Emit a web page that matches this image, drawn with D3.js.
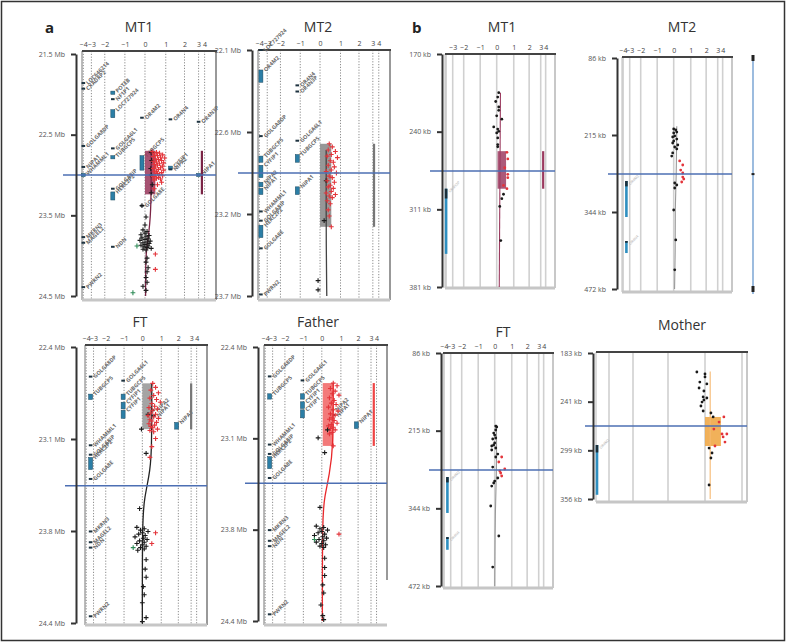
<!DOCTYPE html>
<html><head><meta charset="utf-8">
<script src="https://cdn.jsdelivr.net/npm/d3@7"></script>
<style>body{margin:0;background:#fff}svg{display:block}</style>
</head><body><svg id="c" width="788" height="643"></svg>
<script>
// ---------------- DATA ----------------
const xTickVals = [-4,-3,-2,-1,0,1,2,3,4];
const bMT1TickVals = [-3,-2,-1,0,1,2,3,4];
const motherGridVals = [-3,-2,-1,0,1];

// panel a, MT1
const aMT1YDomain = [21.5,24.5];
const aMT1YLabels = ["21.5 Mb","22.5 Mb","23.5 Mb","24.5 Mb"];
const aMT1Break = 23.0;
const aMT1Box = [0,0.5,22.7,23.24];
const aMT1BarX = 3.55;
const aMT1Genes = [
 ["LOC646214",-4,21.86,21.87],["CXADRP2",-4,21.93,21.94],["POTEB",-1.6,21.96,22.0],
 ["NF1P1",-1.6,22.06,22.07],["LOC727924",-1.6,22.19,22.29],["OR4M2",-0.15,22.29,22.3],
 ["OR4N4",1.25,22.31,22.32],["OR4N3P",3.0,22.34,22.35],["GOLGA8DP",-4,22.64,22.65],
 ["GOLGA6L1",-1.6,22.67,22.68],["TUBGCP5",-1.6,22.76,22.8],["TUBGCP5",-0.15,22.76,22.94],
 ["CYFIP1",1.25,22.89,22.93],["NIPA2",1.25,22.93,22.96],["NIPA1",-4,22.9,22.91],
 ["WHAMML1",-4,22.98,23.02],["NIPA1",3.0,22.98,23.02],["GOLGA8IP",-1.6,23.17,23.18],
 ["HERC2P2",-1.6,23.21,23.31],["GOLGA8E",-0.15,23.38,23.39],["MKRN3",-4,23.77,23.78],
 ["MAGEL2",-4,23.84,23.85],["NDN",-1.6,23.89,23.9],["PWRN2",-4,24.39,24.4]
];
const aMT1Red = [
 [0.35,22.71],[0.55,22.72],[0.7,22.73],[0.45,22.74],[0.85,22.75],[0.6,22.76],[0.4,22.77],[0.75,22.78],[0.95,22.79],[0.5,22.8],
 [0.65,22.81],[0.8,22.82],[0.4,22.83],[0.55,22.84],[0.9,22.85],[0.7,22.86],[0.45,22.87],[0.6,22.88],[0.85,22.89],[0.5,22.9],
 [0.75,22.91],[0.4,22.92],[0.65,22.93],[0.9,22.94],[0.55,22.95],[0.45,22.96],[0.8,22.97],[0.6,22.98],[0.7,22.99],[0.5,23.0],
 [0.85,23.01],[0.4,23.02],[0.65,23.03],[0.55,23.04],[0.75,23.05],[0.45,23.06],[0.8,23.09],[0.6,23.12],[0.45,23.17],[0.5,23.98],[0.5,24.17]
];
const aMT1Black = [
 [0.3,22.72],[0.32,22.82],[0.28,22.92],[0.3,23.0],[0.35,23.12],[0.3,23.22],[-0.15,23.38],[0.05,23.52],[0.0,23.62],
 [-0.1,23.68],[0.1,23.7],[0.0,23.72],[-0.2,23.74],[0.2,23.75],[0.05,23.76],[-0.15,23.78],[0.15,23.79],[0.0,23.8],[-0.25,23.81],
 [0.25,23.82],[0.1,23.83],[-0.1,23.84],[0.2,23.85],[0.0,23.86],[-0.2,23.87],[0.15,23.88],[-0.05,23.89],[0.1,23.9],[0.3,23.91],
 [-0.1,23.92],[0.05,23.93],[0.1,24.03],[0.05,24.08],[0.15,24.15],[0.1,24.2],[0.05,24.27],[0.1,24.33],[-0.1,24.38],[0.05,24.43]
];
const aMT1Green = [[-0.4,23.88],[-0.6,24.46]];
const aMT1Trend = [[0.3,22.7],[0.3,23.4],[0.2,23.7],[0.05,23.95],[0.03,24.2],[0.03,24.5]];

// panel a, MT2
const aMT2YDomain = [22.1,23.7];
const aMT2YLabels = ["22.1 Mb","22.6 Mb","23.2 Mb","23.7 Mb"];
const aMT2Break = 22.9;
const aMT2Box = [0,0.55,22.71,23.25];
const aMT2BarX = 3.2;
const aMT2Genes = [
 ["LOC727924",-3.8,22.1,22.105],["OR4M2",-3.8,22.23,22.31],["OR4N4",-1.15,22.33,22.335],
 ["OR4N3P",-1.15,22.37,22.375],["GOLGA8DP",-3.8,22.66,22.665],["GOLGA6L1",-1.15,22.69,22.695],
 ["TUBGCP5",-1.15,22.78,22.83],["TUBGCP5",-3.8,22.79,22.83],["CYFIP1",-3.8,22.85,22.93],
 ["NIPA2",-3.8,22.96,22.99],["NIPA1",-3.8,23.0,23.04],["NIPA1",-1.15,22.99,23.04],
 ["WHAMML1",-3.8,23.15,23.155],["GOLGA8IP",-3.8,23.21,23.215],["HERC2P2",-3.8,23.24,23.32],
 ["GOLGA8E",-3.8,23.39,23.395],["PWRN2",-3.8,23.69,23.695]
];
const aMT2Red = [
 [0.45,22.71],[0.6,22.73],[0.4,22.75],[0.75,22.76],[0.55,22.78],[0.35,22.79],[0.85,22.8],[0.5,22.82],[0.65,22.83],[0.4,22.85],
 [0.7,22.86],[0.55,22.88],[0.3,22.89],[0.8,22.9],[0.45,22.92],[0.6,22.93],[0.35,22.95],[0.7,22.96],[0.5,22.98],[0.4,22.99],
 [0.65,23.0],[0.55,23.02],[0.3,23.03],[0.75,23.04],[0.45,23.05],[0.6,23.06],[0.35,23.08],[0.5,23.1],[0.4,23.14],[0.45,23.18],[0.55,23.25]
];
const aMT2Black = [[0.3,22.95],[0.2,23.21],[-0.1,23.6],[-0.1,23.66]];
const aMT2Trend = [[0.3,22.75],[0.3,23.43],[0.33,23.7]];

// panel a, FT and Father (shared gene track)
const aFTYDomain = [22.4,24.45];
const aFTYLabels = ["22.4 Mb","23.1 Mb","23.8 Mb","24.4 Mb"];
const aFTBreak = 23.43;
const aFTBox = [0,0.5,22.67,23.01];
const aFTBarX = 3.0;
const aFamilyGenes = [
 ["GOLGA8DP",-3.4,22.62,22.625],["GOLGA6L1",-1.05,22.65,22.655],["TUBGCP5",-3.4,22.75,22.79],
 ["TUBGCP5",-1.05,22.75,22.79],["CYFIP1",-1.05,22.81,22.86],["CYFIP1",-1.05,22.87,22.93],
 ["NIPA2",0.55,22.87,22.875],["NIPA1",0.6,22.91,22.915],["NIPA1",1.9,22.96,23.01],
 ["WHAMML1",-3.4,23.13,23.135],["GOLGA8IP",-3.4,23.2,23.205],["HERC2P2",-3.4,23.22,23.31],
 ["GOLGA8E",-3.4,23.38,23.385],["MKRN3",-3.4,23.77,23.775],["MAGEL2",-3.4,23.85,23.855],
 ["NDN",-3.4,23.89,23.895],["PWRN2",-3.4,24.4,24.405]
];
const aFTRed = [
 [0.55,22.67],[0.7,22.7],[0.45,22.72],[0.85,22.74],[0.6,22.76],[0.4,22.78],[0.75,22.79],[0.95,22.81],[0.5,22.82],[0.65,22.84],
 [0.35,22.85],[0.8,22.86],[0.55,22.87],[0.45,22.89],[0.7,22.9],[0.3,22.91],[0.6,22.92],[0.85,22.93],[0.4,22.94],[0.5,22.95],
 [0.75,22.96],[0.35,22.97],[0.65,22.98],[0.45,22.99],[0.55,23.0],[0.8,23.01],[0.4,23.02],[0.6,23.03],[0.7,23.08],[0.5,23.14],
 [0.4,23.22],[0.7,23.78],[0.5,23.86]
];
const aFTBlack = [
 [0.3,22.9],[-0.05,23.01],[0.2,23.19],[-0.15,23.6],[-0.3,23.74],[0.1,23.75],[-0.1,23.76],[0.3,23.77],[0.0,23.78],[-0.2,23.79],
 [0.15,23.8],[-0.4,23.81],[0.05,23.82],[0.25,23.83],[-0.15,23.84],[0.1,23.85],[-0.3,23.86],[0.0,23.87],[0.2,23.88],[-0.1,23.89],
 [0.1,23.9],[-0.25,23.91],[0.2,23.98],[0.15,24.05],[0.2,24.11],[0.05,24.18],[0.1,24.24],[0.0,24.3],[0.2,24.41],[0.0,24.44]
];
const aFTGreen = [[-0.5,23.89]];
const aFTTrend = [[0.5,22.67],[0.5,23.22],[0.35,23.36],[0.12,23.52],[0,23.66],[0,24.45]];

const aFatherBreak = 23.42;
const aFatherBox = [0.05,0.6,22.67,23.14];
const aFatherBarX = 3.5;
const aFatherRed = [
 [0.6,22.67],[0.8,22.69],[0.45,22.71],[0.7,22.73],[0.55,22.75],[0.9,22.76],[0.4,22.78],[0.65,22.8],[0.5,22.82],[0.75,22.83],
 [0.35,22.85],[0.6,22.87],[0.85,22.88],[0.45,22.9],[0.7,22.91],[0.55,22.93],[0.4,22.94],[0.65,22.95],[0.8,22.97],[0.5,22.98],
 [0.35,22.99],[0.6,23.0],[0.45,23.01],[0.7,23.02],[0.55,23.04],[0.4,23.05],[0.6,23.14],[0.9,23.8]
];
const aFatherBlack = [
 [0.3,23.02],[-0.2,23.08],[0.15,23.19],[-0.1,23.6],[-0.3,23.74],[0.1,23.75],[-0.1,23.76],[0.3,23.77],[0.0,23.78],[-0.2,23.79],
 [0.15,23.8],[-0.4,23.81],[0.05,23.82],[0.25,23.83],[-0.15,23.84],[0.1,23.85],[-0.3,23.86],[0.0,23.87],[0.2,23.88],[-0.1,23.89],
 [0.1,23.9],[0.15,23.98],[0.15,24.05],[0.15,24.11],[0.05,24.18],[0.1,24.24],[-0.05,24.33],[0.05,24.41],[0.1,24.44]
];
const aFatherGreen = [[-0.4,23.84]];
const aFatherTrend = [[0.6,22.67],[0.6,23.16],[0.4,23.35],[0.15,23.52],[0.03,23.65],[0.03,24.45]];

// panel b
const bMT1YDomain = [170,381];
const bMT1YLabels = ["170 kb","240 kb","311 kb","381 kb"];
const bMT1Break = 276;
const bMT1Box = [0.05,0.55,258,292];
const bMT1BarX = 3.5;
const bMT1Genes = [["OR4N3P",-4,292,351]];
const bMT1Black = [[0.12,205],[0.06,209],[-0.06,213],[0.12,218],[0.12,221],[0,226],[0.3,229],[-0.18,236],[0.06,238],[0.12,240],
 [0,241.5],[0.06,246],[0.06,252],[0.06,254],[0.4,297],[0.3,301],[0.18,308],[0.24,339]];
const bMT1Red = [[0.6,259],[0.65,265],[0.47,273],[0.65,279],[0.65,282],[0.4,289],[0.6,292]];
const bMT1Trend = [[0.22,205],[0.15,381]];

const bKbYDomain = [86,472];
const bKbYLabels = ["86 kb","215 kb","344 kb","472 kb"];
const bMT2Break = 280;
const bMT2Genes = [["OR4M2",-3.5,291.5,351.7],["OR4N4",-3.5,391.8,411.9]];
const bMT2Black = [[0,204.6],[0.12,206.3],[0.18,209.7],[0,211.3],[0.06,216.3],[-0.06,218],[0.18,221.4],[0,224.7],[-0.06,228],
 [0.24,231.4],[0.06,234.7],[0.18,238],[-0.06,244.7],[-0.12,249.8],[0.06,294.9],[0.18,298.2],[0.06,303.2],[0,340],[0.12,390],[0.06,440]];
const bMT2Red = [[0.35,258],[0.53,264.8],[0.41,273.2],[0.53,278.2],[0.53,284.9],[0.59,288.2],[0.47,293.2]];
const bMT2Trend = [[0.18,200],[0.15,290],[0.08,340],[0.1,400],[0.05,472]];

const bFTBreak = 280;
const bFTGenes = [["OR4M2",-3.5,291.5,351],["OR4N4",-3.5,391,412]];
const bFTBlack = [[0.06,207],[0.12,208.6],[0.06,213.6],[-0.06,218.6],[0,221.9],[0.06,226.8],[-0.12,228.5],[0,235.1],[-0.06,238.4],
 [-0.18,240.1],[0.06,243.4],[-0.18,246.7],[0.18,253.4],[0.06,258.3],[-0.12,274.9],[0.18,293.1],[0,298.1],[-0.06,301.4],
 [-0.18,306.4],[-0.24,339.5],[0.24,389.2],[-0.12,440.6]];
const bFTRed = [[0.41,258.3],[0.24,266.6],[0.59,278.2],[0.3,281.5],[0.35,284.8],[0.41,289.8]];
const bFTTrend = [[0.1,205],[0.12,280],[0.03,340],[0,472]];

const bMotherYDomain = [183,356];
const bMotherYLabels = ["183 kb","241 kb","299 kb","356 kb"];
const bMotherBreak = 269.5;
const bMotherBox = [0,0.43,258.8,293.2];
const bMotherGenes = [["OR4M2",-4,292,351]];
const bMotherBlack = [[-0.22,205.5],[0,207.9],[-0.14,217.4],[0,211.4],[0.05,219.7],[-0.16,224.5],[-0.03,228],[-0.05,235.1],
 [0.05,236.3],[-0.03,238.7],[-0.08,241.1],[-0.11,245.8],[-0.05,251.7],[0.16,254.1],[0.22,258.8],[0.11,295.6],[0.19,301.5],
 [0.16,307.4],[0.11,339.4]];
const bMotherRed = [[0.51,258.8],[0.38,264.8],[0.24,273.1],[0.46,279],[0.59,279],[0.49,282.5],[0.54,288.5],[0.27,293.2]];
const bMotherTrend = [[0.14,205],[0.14,356]];
const motherXDomain = [-4,-3,-2,-1,0,1];

// ---------------- LAYOUT / DRAW ----------------
const FONT = "'Open Sans','DejaVu Sans',sans-serif";
const tickFrac = [0.01,0.07,0.17,0.32,0.47,0.625,0.765,0.87,0.915];
const svg = d3.select("#c");
svg.append("rect").attr("x",1.5).attr("y",1.5).attr("width",783).attr("height",639)
  .attr("fill","none").attr("stroke","#333").attr("stroke-width",1.5);

function fmt(d){ return d<0 ? "\u2212"+Math.abs(d) : String(d); }

function drawPanel(p){
  const g = svg.append("g");
  const xDom = p.xDomain || xTickVals;
  const xRange = p.xRange || tickFrac.map(f=>p.px0+f*(p.px1-p.px0));
  const xs = d3.scaleLinear().domain(xDom).range(xRange);
  const ys = d3.scaleLinear().domain(p.yDomain).range(p.yr);
  const A = p.style==="a";

  g.selectAll("line.grid").data(p.grid||xTickVals).join("line")
    .attr("x1",d=>xs(d)).attr("x2",d=>xs(d)).attr("y1",p.py0).attr("y2",p.py1)
    .attr("stroke",A?"#6f6f6f":"#d0d0d0").attr("stroke-width",A?0.8:1.6)
    .attr("stroke-dasharray",A?"1.2,1.6":null);

  g.append("line").attr("x1",p.px0).attr("x2",p.px0).attr("y1",p.py0).attr("y2",p.py1)
    .attr("stroke",A?"#777":"#bbb").attr("stroke-width",1);
  g.append("line").attr("x1",p.px1).attr("x2",p.px1).attr("y1",p.py0).attr("y2",p.rightEnd||p.py1)
    .attr("stroke",A?"#555":"#c8c8c8").attr("stroke-width",A?1.2:2);
  g.append("line").attr("x1",p.px0).attr("x2",p.px1).attr("y1",p.py1).attr("y2",p.py1)
    .attr("stroke","#c6c6c6").attr("stroke-width",3);
  g.append("line").attr("x1",p.px0).attr("x2",p.px1+1).attr("y1",p.py0).attr("y2",p.py0)
    .attr("stroke","#444").attr("stroke-width",2);

  const gg = g.append("g");
  (p.genes||[]).forEach(d=>{
    const x = xs(d[1]), y0 = ys(d[2]), y1 = ys(d[3]);
    if(A){
      if(y1-y0 < 2.5){
        gg.append("rect").attr("x",x-1.8).attr("y",y0-1).attr("width",3.6).attr("height",2).attr("fill","#1e3340");
      } else {
        gg.append("rect").attr("x",x-2).attr("y",y0).attr("width",4).attr("height",y1-y0)
          .attr("fill","#2b7ea6").attr("stroke","#1e4a60").attr("stroke-width",0.5);
      }
      gg.append("text").attr("transform",`translate(${x+5},${y0+2}) rotate(-45)`)
        .attr("font-size",5.5).attr("font-weight","bold").attr("fill","#6a6a6a")
        .attr("font-family",FONT).text(d[0]);
    } else {
      gg.append("rect").attr("x",x-1.3).attr("y",y0).attr("width",2.6).attr("height",y1-y0).attr("fill","#2e8fc0");
      gg.append("rect").attr("x",x-1.3).attr("y",y0).attr("width",2.6).attr("height",(y1-y0)*0.15).attr("fill","#1b2f3a");
      gg.append("text").attr("transform",`translate(${x+4},${y0+4}) rotate(-45)`)
        .attr("font-size",3.6).attr("fill","#aaa").attr("font-family",FONT).text(d[0]);
    }
  });

  if(p.box){
    g.append("rect").attr("x",xs(p.box[0])).attr("y",ys(p.box[2]))
      .attr("width",xs(p.box[1])-xs(p.box[0])).attr("height",ys(p.box[3])-ys(p.box[2]))
      .attr("fill",p.boxColor).attr("opacity",0.9);
  }
  if(p.barX!==undefined && p.box){
    g.append("rect").attr("x",xs(p.barX)-1.1).attr("y",ys(p.box[2])).attr("width",2.2)
      .attr("height",ys(p.box[3])-ys(p.box[2])).attr("fill",p.barColor);
  }
  if(p.trend){
    g.append("path").datum(p.trend)
      .attr("d",d3.line().x(d=>xs(d[0])).y(d=>ys(d[1])).curve(d3.curveBasis))
      .attr("fill","none").attr("stroke",p.trendColor).attr("stroke-width",A?1.3:1.1);
  }
  const plus = "M-2.4,0H2.4M0,-2.4V2.4";
  function pts(arr,color){
    if(!arr) return;
    if(A){
      g.append("g").selectAll("path").data(arr).join("path")
        .attr("transform",d=>`translate(${xs(d[0])},${ys(d[1])})`).attr("d",plus)
        .attr("stroke",color).attr("stroke-width",1.1).attr("fill","none");
    } else {
      g.append("g").selectAll("circle").data(arr).join("circle")
        .attr("cx",d=>xs(d[0])).attr("cy",d=>ys(d[1])).attr("r",1.4).attr("fill",color);
    }
  }
  pts(p.black,"#1a1a1a");
  pts(p.green,"#2e8b57");
  pts(p.red,"#e3343a");

  g.append("line").attr("x1",p.blueX0).attr("x2",p.px1).attr("y1",ys(p.brk)).attr("y2",ys(p.brk))
    .attr("stroke","#4c6fb3").attr("stroke-width",1.5);

  if(p.tickVals){
    const ax = g.append("g").attr("transform",`translate(0,${p.py0})`)
      .call(d3.axisTop(xs).tickValues(p.tickVals).tickSize(0).tickPadding(4).tickFormat(fmt));
    ax.select(".domain").remove();
    ax.selectAll("text").attr("font-size",7).attr("fill","#444").attr("font-family",FONT);
  }
  const yt = d3.range(4).map(i=>p.yDomain[0]+i*(p.yDomain[1]-p.yDomain[0])/3);
  const ay = g.append("g").attr("transform",`translate(${p.axisX},0)`)
    .call(d3.axisLeft(ys).tickValues(yt).tickFormat((d,i)=>p.yLabels[i]).tickSize(5).tickSizeOuter(0).tickPadding(6));
  ay.select(".domain").attr("stroke","#333").attr("stroke-width",2);
  ay.selectAll(".tick line").attr("stroke","#333").attr("stroke-width",2);
  ay.selectAll("text").attr("font-size",7).attr("fill","#555").attr("font-family",FONT);

  svg.append("text").attr("x",p.tx).attr("y",p.ty).attr("text-anchor","middle")
    .attr("font-size",14).attr("fill","#333").attr("font-family",FONT).text(p.title);
  return {xs,ys};
}

drawPanel({style:"a",title:"MT1",tx:139,ty:32,px0:82,px1:216,py0:51,py1:300,yr:[54,296],axisX:76,blueX0:63,
  yDomain:aMT1YDomain,yLabels:aMT1YLabels,brk:aMT1Break,tickVals:xTickVals,genes:aMT1Genes,
  red:aMT1Red,black:aMT1Black,green:aMT1Green,trend:aMT1Trend,trendColor:"#7a2445",
  box:aMT1Box,boxColor:"#9c3f63",barX:aMT1BarX,barColor:"#7a2445"});
drawPanel({style:"a",title:"MT2",tx:318,ty:32,px0:258,px1:390,py0:50,py1:300,yr:[50,296],axisX:252,blueX0:238,
  yDomain:aMT2YDomain,yLabels:aMT2YLabels,brk:aMT2Break,tickVals:xTickVals,genes:aMT2Genes,
  red:aMT2Red,black:aMT2Black,trend:aMT2Trend,trendColor:"#444",
  box:aMT2Box,boxColor:"#8c8c8c",barX:aMT2BarX,barColor:"#777"});
drawPanel({style:"a",title:"FT",tx:140,ty:327,px0:85,px1:207,py0:345,py1:625,yr:[347,623],axisX:76,blueX0:65,
  yDomain:aFTYDomain,yLabels:aFTYLabels,brk:aFTBreak,tickVals:xTickVals,genes:aFamilyGenes,
  red:aFTRed,black:aFTBlack,green:aFTGreen,trend:aFTTrend,trendColor:"#222",
  box:aFTBox,boxColor:"#9a9a9a",barX:aFTBarX,barColor:"#777"});
drawPanel({style:"a",title:"Father",tx:318,ty:327,px0:264,px1:387,py0:345,py1:625,yr:[347,621],axisX:258,blueX0:245,rightEnd:580,
  yDomain:aFTYDomain,yLabels:aFTYLabels,brk:aFatherBreak,tickVals:xTickVals,genes:aFamilyGenes,
  red:aFatherRed,black:aFatherBlack,green:aFatherGreen,trend:aFatherTrend,trendColor:"#e8272a",
  box:aFatherBox,boxColor:"#f26b6b",barX:aFatherBarX,barColor:"#ee4444"});

drawPanel({style:"b",title:"MT1",tx:502,ty:32,px0:445,px1:555,py0:54,py1:288,yr:[54,287],axisX:442,blueX0:430,
  yDomain:bMT1YDomain,yLabels:bMT1YLabels,brk:bMT1Break,tickVals:bMT1TickVals,genes:bMT1Genes,
  red:bMT1Red,black:bMT1Black,trend:bMT1Trend,trendColor:"#9b3a5f",
  box:bMT1Box,boxColor:"#a3476a",barX:bMT1BarX,barColor:"#9b3a5f"});
const m2 = drawPanel({style:"b",title:"MT2",tx:682,ty:32,px0:622,px1:732,py0:57,py1:292,yr:[58,289],axisX:617,blueX0:608,
  yDomain:bKbYDomain,yLabels:bKbYLabels,brk:bMT2Break,tickVals:xTickVals,genes:bMT2Genes,
  red:bMT2Red,black:bMT2Black,trend:bMT2Trend,trendColor:"#999"});
drawPanel({style:"b",title:"FT",tx:503,ty:337,px0:443,px1:553,py0:353,py1:588,yr:[353,586],axisX:441,blueX0:429,
  yDomain:bKbYDomain,yLabels:bKbYLabels,brk:bFTBreak,tickVals:xTickVals,genes:bFTGenes,
  red:bFTRed,black:bFTBlack,trend:bFTTrend,trendColor:"#999"});
drawPanel({style:"b",title:"Mother",tx:682,ty:330,px0:596,px1:747,py0:352,py1:502,yr:[353,499],axisX:593,blueX0:585,
  xDomain:motherXDomain,xRange:[597,609,633,668,705,742],grid:motherGridVals,
  yDomain:bMotherYDomain,yLabels:bMotherYLabels,brk:bMotherBreak,genes:bMotherGenes,
  red:bMotherRed,black:bMotherBlack,trend:bMotherTrend,trendColor:"#f5b870",
  box:bMotherBox,boxColor:"#f0a848"});

const sx = 753;
svg.append("line").attr("x1",sx).attr("x2",sx).attr("y1",m2.ys(bKbYDomain[0])-3).attr("y2",m2.ys(bKbYDomain[1])+5)
  .attr("stroke","#5b8fc9").attr("stroke-width",1.2);
[bKbYDomain[0],bMT2Break,bKbYDomain[1]].forEach((v,i)=>{
  svg.append("rect").attr("x",sx-1.5).attr("y",m2.ys(v)-(i===1?1:3)).attr("width",3).attr("height",i===1?2:6).attr("fill","#222");
});

svg.append("text").attr("x",45).attr("y",33).attr("font-size",15).attr("font-weight","bold")
  .attr("fill","#222").attr("font-family",FONT).text("a");
svg.append("text").attr("x",412).attr("y",33).attr("font-size",15).attr("font-weight","bold")
  .attr("fill","#222").attr("font-family",FONT).text("b");
</script></body></html>
